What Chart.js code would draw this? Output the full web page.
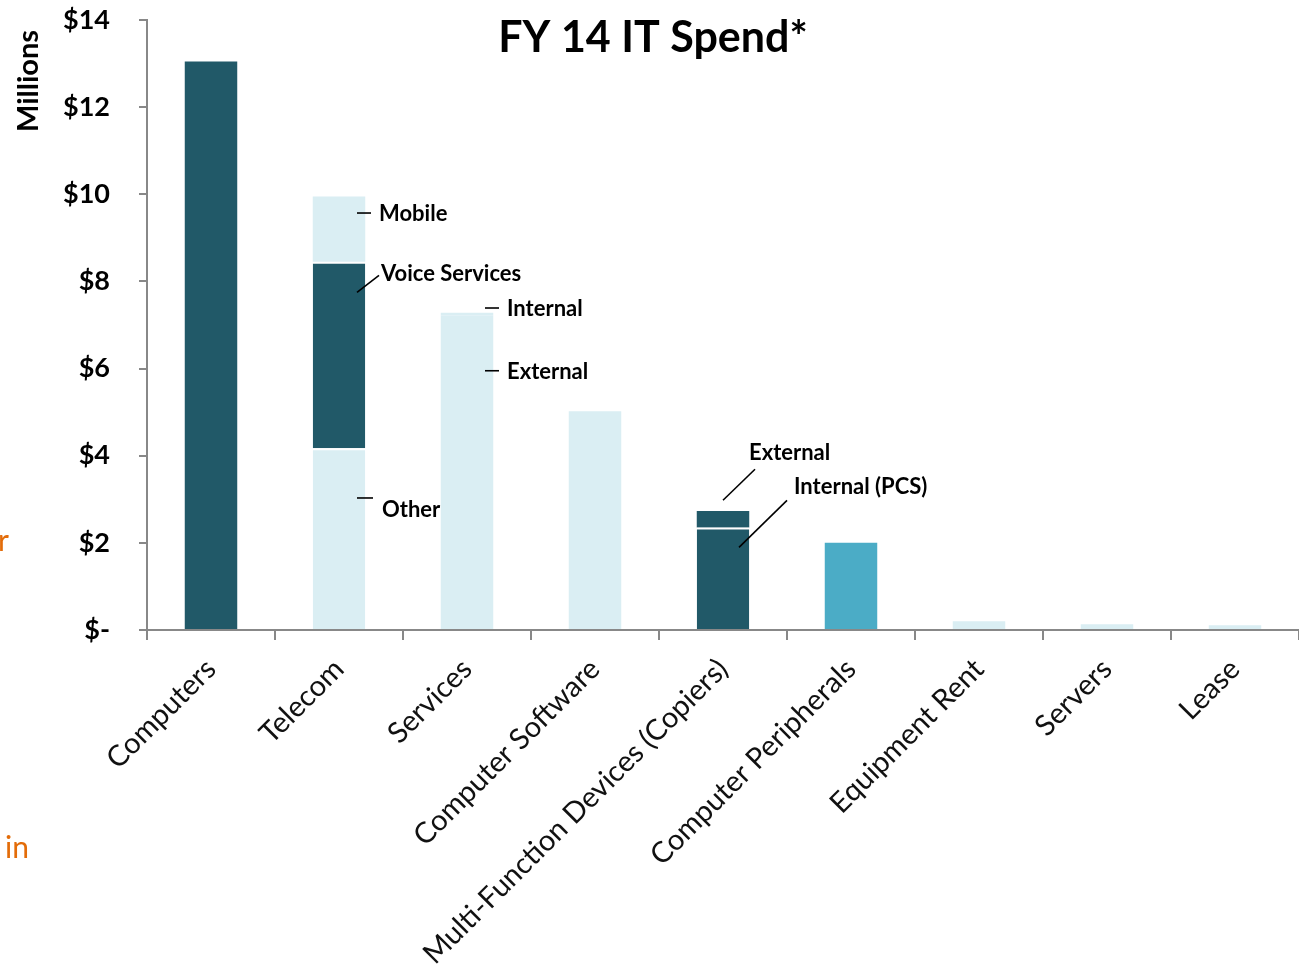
<!DOCTYPE html>
<html>
<head>
<meta charset="utf-8">
<title>FY 14 IT Spend</title>
<script src="https://cdn.jsdelivr.net/npm/chart.js@4/dist/chart.umd.min.js"></script>
<style>
    html, body { margin: 0; padding: 0; background: #fff; }
    #wrap { position: relative; width: 1299px; height: 969px; }
</style>
</head>
<body>
<div id="wrap"><canvas id="spend-chart" width="1299" height="969"></canvas></div>
<script>
// Données du graphique (en millions de $)
const categories = ['Computers', 'Telecom', 'Services', 'Computer Software',
    'Multi-Function Devices (Copiers)', 'Computer Peripherals', 'Equipment Rent', 'Servers', 'Lease'];

// Segment du bas, du milieu et du haut de chaque barre
const bottomValues = [13.05, 4.17, 7.22, 5.02, 2.35, 2.0, 0.2, 0.13, 0.11];
const middleValues = [0, 4.28, 0.06, 0, 0.38, 0, 0, 0, 0];
const topValues    = [0, 1.50, 0, 0, 0, 0, 0, 0, 0];

const yTicks = [0, 2, 4, 6, 8, 10, 12, 14];

// Libellés des segments : catégorie, valeur d'ancrage
const segmentNotes = [
    { text: 'Mobile',         cat: 1, value: 9.57, kind: 'tick' },
    { text: 'Voice Services', cat: 1, value: 7.75, kind: 'diag' },
    { text: 'Internal',       cat: 2, value: 7.39, kind: 'tick' },
    { text: 'External',       cat: 2, value: 5.95, kind: 'tick' },
    { text: 'Other',          cat: 1, value: 3.03, kind: 'tickLow' },
    { text: 'External',       cat: 4, value: 3.0,  kind: 'diagHigh' },
    { text: 'Internal (PCS)', cat: 4, value: 1.92, kind: 'diagLong' }
];

const DARK = '#215968';
const LIGHT = '#DAEEF3';
const MID = '#4BACC6';

const bottomColors = [DARK, LIGHT, LIGHT, LIGHT, DARK, MID, LIGHT, LIGHT, LIGHT];
const middleColors = [DARK, DARK, LIGHT, LIGHT, DARK, MID, LIGHT, LIGHT, LIGHT];
const topColors    = [LIGHT, LIGHT, LIGHT, LIGHT, LIGHT, LIGHT, LIGHT, LIGHT, LIGHT];

const layers = [bottomValues, middleValues, topValues];

const FONT = 'Lato, "Open Sans", sans-serif';

// Trait blanc entre deux segments, seulement si le segment du dessus est visible
function separatorWidth(ctx) {
    const above = layers[ctx.datasetIndex + 1];
    const hasAbove = above && above[ctx.dataIndex] >= 0.2;
    return { top: hasAbove ? 2 : 0, left: 0, right: 0, bottom: 0 };
}

// Dessine titre, libellés et traits de repère
const notesPlugin = {
    id: 'notes',
    afterDraw(chart) {
        const ctx = chart.ctx;
        const xs = chart.scales.x;
        const ys = chart.scales.y;
        ctx.save();

        // Titre
        ctx.fillStyle = '#000';
        ctx.font = 'bold 43px ' + FONT;
        ctx.textAlign = 'center';
        ctx.textBaseline = 'middle';
        ctx.fillText('FY 14 IT Spend*', 653, 38);

        // Titre de l'axe
        ctx.save();
        ctx.translate(29, 81);
        ctx.rotate(-Math.PI / 2);
        ctx.font = 'bold 29px ' + FONT;
        ctx.fillText('Millions', 0, 0);
        ctx.restore();

        // Texte orange coupé sur le bord gauche
        ctx.fillStyle = '#E36C09';
        ctx.font = '30px ' + FONT;
        ctx.textAlign = 'left';
        ctx.fillText('r', -2, 541);
        ctx.fillText('in', 5, 848);

        ctx.strokeStyle = '#000';
        ctx.lineWidth = 1.6;
        ctx.fillStyle = '#000';
        ctx.font = 'bold 22px ' + FONT;
        ctx.textBaseline = 'middle';
        segmentNotes.forEach(n => {
            const x = xs.getPixelForValue(n.cat);
            const y = ys.getPixelForValue(n.value);
            ctx.beginPath();
            if (n.kind === 'tick') {
                ctx.moveTo(x + 18, y); ctx.lineTo(x + 32, y);
                ctx.stroke();
                ctx.fillText(n.text, x + 40, y + 1);
            } else if (n.kind === 'tickLow') {
                ctx.moveTo(x + 18, y); ctx.lineTo(x + 34, y);
                ctx.stroke();
                ctx.fillText(n.text, x + 43, y + 12);
            } else if (n.kind === 'diag') {
                ctx.moveTo(x + 18, y); ctx.lineTo(x + 40, y - 17);
                ctx.stroke();
                ctx.fillText(n.text, x + 42, y - 18);
            } else if (n.kind === 'diagHigh') {
                ctx.moveTo(x + 0, y + 1); ctx.lineTo(x + 32, y - 30);
                ctx.stroke();
                ctx.fillText(n.text, x + 26, y - 46);
            } else {
                ctx.moveTo(x + 16, y + 1); ctx.lineTo(x + 64, y - 46);
                ctx.stroke();
                ctx.fillText(n.text, x + 71, y - 59);
            }
        });
        ctx.restore();
    }
};

const canvas = document.getElementById('spend-chart');
new Chart(canvas.getContext('2d'), {
    type: 'bar',
    data: {
        labels: categories,
        datasets: [
            { data: bottomValues, backgroundColor: bottomColors },
            { data: middleValues, backgroundColor: middleColors },
            { data: topValues, backgroundColor: topColors }
        ].map(d => Object.assign(d, {
            borderColor: '#ffffff',
            borderWidth: separatorWidth,
            borderSkipped: false,
            categoryPercentage: 1,
            barPercentage: 0.41
        }))
    },
    options: {
        responsive: false,
        animation: false,
        devicePixelRatio: 1,
        layout: { padding: { top: 20, right: 0, left: 0, bottom: 0 } },
        plugins: {
            legend: { display: false },
            tooltip: { enabled: false }
        },
        scales: {
            x: {
                stacked: true,
                grid: {
                    display: true,
                    offset: true,
                    drawOnChartArea: false,
                    drawTicks: true,
                    tickLength: 10,
                    color: '#888',
                    lineWidth: 2
                },
                border: { color: '#888', width: 2 },
                ticks: {
                    minRotation: 45,
                    maxRotation: 45,
                    autoSkip: false,
                    padding: 12,
                    color: '#111',
                    font: { family: FONT, size: 29 }
                },
                afterFit(scale) {
                    scale.height = 339;
                    scale.paddingLeft = 0;
                    scale.paddingRight = 0;
                }
            },
            y: {
                stacked: true,
                min: 0,
                max: 14,
                afterBuildTicks(scale) {
                    scale.ticks = yTicks.map(v => ({ value: v }));
                },
                grid: {
                    display: true,
                    drawOnChartArea: false,
                    drawTicks: true,
                    tickLength: 8,
                    color: '#888',
                    lineWidth: 2
                },
                border: { color: '#888', width: 2 },
                ticks: {
                    padding: 29,
                    color: '#000',
                    font: { family: FONT, size: 27, weight: 'bold' },
                    callback: v => v === 0 ? '$-' : '$' + v
                },
                afterFit(scale) {
                    scale.width = 147;
                    scale.paddingTop = 0;
                    scale.paddingBottom = 0;
                }
            }
        }
    },
    plugins: [notesPlugin]
});
</script>
</body>
</html>
